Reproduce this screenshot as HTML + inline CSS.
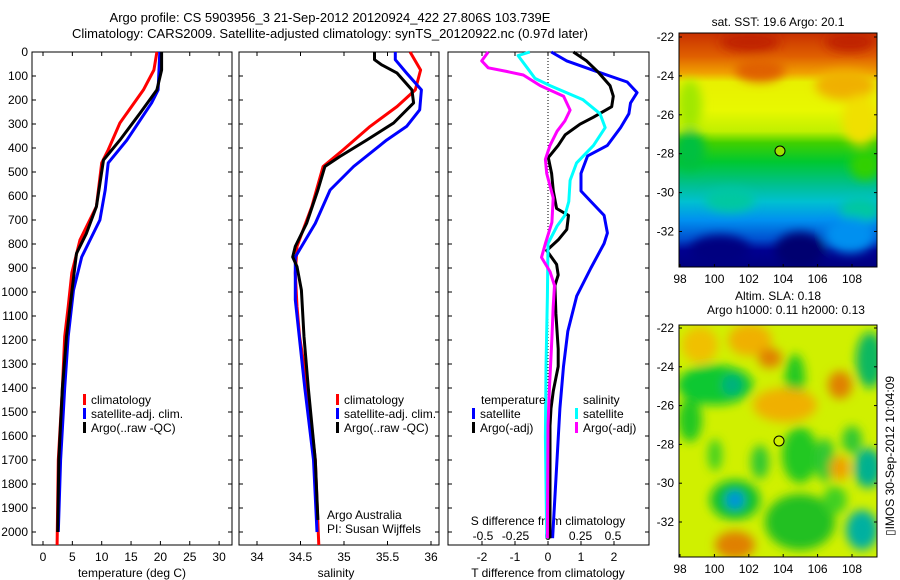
<!DOCTYPE html>
<html><head><meta charset="utf-8">
<style>
body{margin:0;background:#fff;}
svg{display:block;font-family:"Liberation Sans",sans-serif;}
</style></head>
<body>
<svg id="c" width="900" height="580" viewBox="0 0 900 580">
<defs>
<linearGradient id="sstg" x1="0" y1="0" x2="0" y2="1">
<stop offset="0" stop-color="#c83000"/><stop offset="0.1" stop-color="#e06000"/>
<stop offset="0.17" stop-color="#f0a000"/><stop offset="0.21" stop-color="#e8f000"/>
<stop offset="0.33" stop-color="#e8f800"/><stop offset="0.42" stop-color="#c0f000"/>
<stop offset="0.47" stop-color="#40d000"/><stop offset="0.55" stop-color="#00c830"/>
<stop offset="0.65" stop-color="#00c090"/><stop offset="0.72" stop-color="#00c0d0"/>
<stop offset="0.8" stop-color="#0090f0"/><stop offset="0.88" stop-color="#0050d0"/>
<stop offset="0.93" stop-color="#000090"/><stop offset="1" stop-color="#000080"/>
</linearGradient>
<filter id="bl"><feGaussianBlur stdDeviation="5"/></filter>
<clipPath id="m1"><rect x="679" y="33" width="198" height="234"/></clipPath>
<clipPath id="m2"><rect x="679" y="325" width="198" height="232"/></clipPath>
</defs>
<text x="330" y="22" text-anchor="middle" font-size="13">Argo profile: CS 5903956_3 21-Sep-2012 20120924_422 27.806S 103.739E</text>
<text x="330" y="38" text-anchor="middle" font-size="13">Climatology: CARS2009. Satellite-adjusted climatology: synTS_20120922.nc (0.97d later)</text>
<g id="p1"></g>
<g id="p2"></g>
<g id="p3"></g>
<g>
<text x="778" y="26" text-anchor="middle" font-size="12">sat. SST: 19.6 Argo: 20.1</text>
<g clip-path="url(#m1)">
<rect x="679" y="33" width="198" height="234" fill="url(#sstg)"/>
<g filter="url(#bl)">
<ellipse cx="750" cy="42" rx="30" ry="10" fill="#c02000"/>
<ellipse cx="850" cy="42" rx="25" ry="10" fill="#c02000"/>
<ellipse cx="760" cy="70" rx="25" ry="12" fill="#e06000"/>
<ellipse cx="845" cy="85" rx="30" ry="15" fill="#f0b000"/>
<ellipse cx="690" cy="105" rx="12" ry="25" fill="#a0e800"/>
<ellipse cx="860" cy="120" rx="18" ry="25" fill="#f0e000"/>
<ellipse cx="690" cy="150" rx="15" ry="20" fill="#00c040"/>
<ellipse cx="865" cy="165" rx="15" ry="15" fill="#30d000"/>
<ellipse cx="730" cy="200" rx="25" ry="12" fill="#00c8a0"/>
<ellipse cx="860" cy="210" rx="20" ry="12" fill="#00c8a0"/>
<ellipse cx="720" cy="250" rx="30" ry="15" fill="#000080"/>
<ellipse cx="800" cy="250" rx="25" ry="18" fill="#000070"/>
<ellipse cx="850" cy="235" rx="25" ry="18" fill="#0090f0"/>
</g>
</g>
<rect x="679" y="33" width="198" height="234" fill="none" stroke="#000"/>
<circle cx="780" cy="151" r="5" fill="#a0e000" stroke="#000"/>
</g>
<g>
<text x="778" y="300" text-anchor="middle" font-size="12">Altim. SLA: 0.18</text>
<text x="786" y="314" text-anchor="middle" font-size="12">Argo h1000: 0.11 h2000: 0.13</text>
<g clip-path="url(#m2)">
<rect x="679" y="325" width="198" height="232" fill="#d0f000"/>
<g filter="url(#bl)">
<ellipse cx="700" cy="345" rx="18" ry="18" fill="#f0c000"/>
<ellipse cx="750" cy="340" rx="22" ry="16" fill="#f0b000"/>
<ellipse cx="770" cy="358" rx="12" ry="10" fill="#e08000"/>
<ellipse cx="715" cy="385" rx="38" ry="20" fill="#10c830"/>
<ellipse cx="732" cy="385" rx="10" ry="10" fill="#00b080"/>
<ellipse cx="795" cy="378" rx="10" ry="24" fill="#20c820"/>
<ellipse cx="785" cy="405" rx="32" ry="17" fill="#f0b000"/>
<ellipse cx="840" cy="385" rx="12" ry="14" fill="#e08000"/>
<ellipse cx="870" cy="360" rx="14" ry="28" fill="#10b860"/>
<ellipse cx="690" cy="420" rx="12" ry="22" fill="#20c820"/>
<ellipse cx="800" cy="455" rx="18" ry="28" fill="#20c820"/>
<ellipse cx="825" cy="460" rx="10" ry="22" fill="#30c830"/>
<ellipse cx="760" cy="462" rx="9" ry="17" fill="#30c830"/>
<ellipse cx="715" cy="455" rx="7" ry="16" fill="#40d020"/>
<ellipse cx="852" cy="440" rx="10" ry="14" fill="#30c830"/>
<ellipse cx="868" cy="468" rx="14" ry="20" fill="#00b090"/>
<ellipse cx="840" cy="468" rx="10" ry="12" fill="#f0a000"/>
<ellipse cx="735" cy="500" rx="25" ry="20" fill="#10c030"/>
<ellipse cx="735" cy="500" rx="9" ry="9" fill="#0090e0"/>
<ellipse cx="800" cy="522" rx="35" ry="28" fill="#20c020"/>
<ellipse cx="735" cy="545" rx="20" ry="14" fill="#e08000"/>
<ellipse cx="862" cy="530" rx="16" ry="20" fill="#00b0a0"/>
<ellipse cx="835" cy="500" rx="12" ry="14" fill="#40d020"/>
</g>
</g>
<rect x="679" y="325" width="198" height="232" fill="none" stroke="#000"/>
<circle cx="779" cy="441" r="5" fill="#d0f000" stroke="#000"/>
</g>
<text transform="translate(894,456) rotate(-90)" text-anchor="middle" font-size="12">▯IMOS 30-Sep-2012 10:04:09</text>
</svg>
<script>
// depth grids + values
const tClimD=[0,75,158,296,408,462,644,783,921,1061,1186,1400,1700,2054];
const tClim=[19.4,18.9,17.1,13.1,11.1,10.0,9.1,6.3,4.9,4.3,3.7,3.3,2.6,2.4];
const tSatD=[0,158,212,367,462,575,700,854,992,1186,1400,1700,2000];
const tSat=[19.9,19.6,18.5,14.3,11.1,10.6,9.7,6.6,5.2,4.3,3.7,3.0,2.6];
const tArgoD=[0,75,158,256,367,450,644,756,839,921,1186,1400,1700,2000];
const tArgo=[20.2,20.2,19.4,16.5,13.1,10.3,9.1,7.4,5.7,5.3,4.0,3.3,2.7,2.5];
const sClimD=[0,75,158,227,310,408,477,644,810,921,1061,1186,1400,1700,2054];
const sClim=[35.76,35.88,35.82,35.61,35.30,34.99,34.76,34.63,34.46,34.44,34.46,34.49,34.58,34.67,34.71];
const sSatD=[0,32,88,158,241,310,367,477,575,714,854,1033,1400,1700,2000];
const sSat=[35.59,35.59,35.72,35.89,35.87,35.72,35.49,35.11,34.84,34.67,34.44,34.44,34.55,34.65,34.69];
const sArgoD=[0,32,53,88,158,212,296,367,436,477,575,714,810,854,894,992,1186,1400,1700,1950];
const sArgo=[35.35,35.35,35.43,35.61,35.78,35.80,35.57,35.26,34.95,34.78,34.70,34.57,34.44,34.41,34.46,34.51,34.54,34.59,34.67,34.70];
const dTSatD=[0,37,81,125,169,213,257,315,389,433,506,579,623,681,754,798,900,1017,1164,1310,1485,2026];
const dTSat=[0.1,0.57,1.47,2.4,2.7,2.5,2.45,2.2,1.8,1.2,1.0,1.0,1.3,1.7,1.8,1.7,1.3,0.87,0.6,0.47,0.36,0.14];
const dTArgoD=[0,37,81,140,184,228,272,301,345,389,440,506,579,652,681,739,783,827,885,929,973,1090,1237,1310,1412,1485,1558,2026];
const dTArgo=[0.77,1.17,1.5,1.88,1.98,1.93,1.37,0.97,0.52,0.31,0.01,0.11,0.16,0.26,0.62,0.57,0.31,-0.04,0.26,0.31,0.21,0.24,0.31,0.31,0.16,0.09,0.06,0.06];
const dSSatD=[0,15,66,110,140,199,257,315,389,462,535,623,681,725,798,1017,1310,1604,2026];
const dSSat=[-0.14,-0.23,-0.16,-0.1,0.015,0.27,0.4,0.44,0.35,0.22,0.17,0.16,0.13,0.07,0.0,-0.005,-0.015,-0.02,-0.01];
const dSArgoD=[0,37,66,81,96,140,184,242,287,330,389,447,506,608,710,798,856,915,973,1061,1193,1412,1558,2026];
const dSArgo=[-0.46,-0.51,-0.46,-0.32,-0.19,-0.06,0.12,0.17,0.13,0.07,0.015,-0.02,-0.01,0.04,0.03,-0.02,-0.05,0.015,0.05,0.04,0.03,0.01,0,-0.005];
const depthTicks=[0,100,200,300,400,500,600,700,800,900,1000,1100,1200,1300,1400,1500,1600,1700,1800,1900,2000];
const tTicks=[0,5,10,15,20,25,30];
const sTicks=[34,34.5,35,35.5,36];
const dtTicks=[-2,-1,0,1,2];
const dsTicks=[-0.5,-0.25,0,0.25,0.5];
const latTicks=[-22,-24,-26,-28,-30,-32];
const lonTicks=[98,100,102,104,106,108];

const NS='http://www.w3.org/2000/svg';
const svg=document.getElementById('c');
const yD=d=>52+d*0.24;
const xT=t=>43+t*5.87;
const xS=s=>257+(s-34)*87;
const xDT=t=>548+t*33;
const xDS=s=>548+s*130;
const TOP=52,BOT=545;
function el(tag,attrs,parent,txt){const e=document.createElementNS(NS,tag);for(const k in attrs)e.setAttribute(k,attrs[k]);if(txt!==undefined)e.textContent=txt;(parent||svg).appendChild(e);return e;}
function line(vals,ds,xf,col,parent,name){
  const pts=vals.map((v,i)=>xf(v).toFixed(1)+','+yD(ds[i]).toFixed(1)).join(' ');
  const p=el('polyline',{points:pts,fill:'none',stroke:col,'stroke-width':3,'stroke-linejoin':'round'},parent);
  
  
}
function frame(g,x0,x1){
  el('rect',{x:x0,y:TOP,width:x1-x0,height:BOT-TOP,fill:'none',stroke:'#000'},g);
  depthTicks.forEach(d=>{el('line',{x1:x0,x2:x0+4,y1:yD(d),y2:yD(d),stroke:'#000'},g);el('line',{x1:x1-4,x2:x1,y1:yD(d),y2:yD(d),stroke:'#000'},g);});
}
function xticks(g,ticks,xf,labY,fmt){
  ticks.forEach(t=>{const x=xf(t);el('line',{x1:x,x2:x,y1:BOT-4,y2:BOT,stroke:'#000'},g);el('line',{x1:x,x2:x,y1:TOP,y2:TOP+4,stroke:'#000'},g);
  const tx=el('text',{x:x,y:labY,'text-anchor':'middle','font-size':12},g,fmt?fmt(t):String(t));
  
  });
}
function legend(g,x,y,items){
  items.forEach((it,i)=>{el('rect',{x:x,y:y+i*14-10,width:3,height:11,fill:it[1]},g);
  const t=el('text',{x:x+8,y:y+i*14,'font-size':12},g,it[0]);
  
  });
}
// panel 1
const g1=document.getElementById('p1');
frame(g1,32,232);
depthTicks.forEach(d=>{const t=el('text',{x:28,y:yD(d)+4,'text-anchor':'end','font-size':12},g1,String(d));

});
xticks(g1,tTicks,xT,561);
el('text',{x:132,y:577,'text-anchor':'middle','font-size':12},g1,'temperature (deg C)');
line(tClim,tClimD,xT,'#f00',g1,'temp-climatology-line');
line(tSat,tSatD,xT,'#00f',g1,'temp-satellite-line');
line(tArgo,tArgoD,xT,'#000',g1,'temp-argo-line');
legend(g1,83,404,[['climatology','#f00'],['satellite-adj. clim.','#00f'],['Argo(..raw -QC)','#000']]);
// panel 2
const g2=document.getElementById('p2');
frame(g2,239,439);
xticks(g2,sTicks,xS,561);
el('text',{x:336,y:577,'text-anchor':'middle','font-size':12},g2,'salinity');
line(sClim,sClimD,xS,'#f00',g2,'sal-climatology-line');
line(sSat,sSatD,xS,'#00f',g2,'sal-satellite-line');
line(sArgo,sArgoD,xS,'#000',g2,'sal-argo-line');
legend(g2,336,404,[['climatology','#f00'],['satellite-adj. clim.','#00f'],['Argo(..raw -QC)','#000']]);
el('text',{x:327,y:519,'font-size':12},g2,'Argo Australia');
el('text',{x:327,y:533,'font-size':12},g2,'PI: Susan Wijffels');
// panel 3
const g3=document.getElementById('p3');
frame(g3,448,649);
el('line',{x1:548,x2:548,y1:TOP,y2:BOT,stroke:'#000','stroke-dasharray':'1,2'},g3);
xticks(g3,dtTicks,xDT,561);
dsTicks.forEach(s=>{const t=el('text',{x:xDS(s),y:540,'text-anchor':'middle','font-size':12},g3,String(s));

});
el('text',{x:548,y:525,'text-anchor':'middle','font-size':12},g3,'S difference from climatology');
el('text',{x:548,y:577,'text-anchor':'middle','font-size':12},g3,'T difference from climatology');
line(dTSat,dTSatD,xDT,'#00f',g3,'tdiff-satellite-line');
line(dTArgo,dTArgoD,xDT,'#000',g3,'tdiff-argo-line');
line(dSSat,dSSatD,xDS,'#0ff',g3,'sdiff-satellite-line');
line(dSArgo,dSArgoD,xDS,'#f0f',g3,'sdiff-argo-line');
el('text',{x:481,y:404,'font-size':12},g3,'temperature');
el('text',{x:583,y:404,'font-size':12},g3,'salinity');
legend(g3,472,418,[['satellite','#00f'],['Argo(-adj)','#000']]);
legend(g3,575,418,[['satellite','#0ff'],['Argo(-adj)','#f0f']]);
// map axes
function mapAxes(y0,yf,labY){
  const g=el('g',{});
  
  
  latTicks.forEach(l=>{const y=yf(l);el('line',{x1:679,x2:682,y1:y,y2:y,stroke:'#000'},g);el('line',{x1:874,x2:877,y1:y,y2:y,stroke:'#000'},g);
  el('text',{x:674,y:y+4,'text-anchor':'end','font-size':12},g,String(l));});
  lonTicks.forEach(l=>{const x=680+(l-98)*17.2;el('line',{x1:x,x2:x,y1:y0-3,y2:y0,stroke:'#000'},g);
  el('text',{x:x,y:labY,'text-anchor':'middle','font-size':12},g,String(l));});
}
mapAxes(267,l=>37+(-22-l)*19.45,283);
mapAxes(557,l=>328+(-22-l)*19.4,573);
</script>
</body></html>
